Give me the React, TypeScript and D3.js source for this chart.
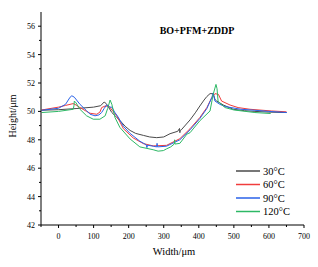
import React from "react";
import * as d3 from "d3";

const seriesNames = ["30°C", "60°C", "90°C", "120°C"];
const seriesColors = ["#4a4a4a", "#f03c3c", "#2a62e8", "#2db865"];

const x30 = [-48, 0, 50, 100, 120, 130, 136, 140, 152, 165, 175, 190, 204, 220, 242, 260, 280, 300, 318, 340, 345, 346, 347, 350, 375, 390, 403, 415, 423, 432, 441, 446, 451, 470, 498, 530, 560, 600, 650];
const y30 = [50.08, 50.12, 50.2, 50.3, 50.4, 50.66, 50.55, 50.4, 49.92, 49.6, 49.36, 48.95, 48.66, 48.45, 48.31, 48.2, 48.15, 48.2, 48.43, 48.6, 48.8, 48.5, 48.66, 48.7, 49.4, 49.9, 50.38, 50.8, 51.05, 51.25, 51.25, 50.85, 50.73, 50.45, 50.15, 50.05, 50.0, 49.95, 49.92];

const x60 = [-48, 0, 20, 42, 50, 61, 80, 90, 109, 118, 123, 133, 145, 152, 166, 185, 213, 242, 270, 308, 346, 375, 403, 423, 437, 446, 456, 465, 489, 512, 546, 608, 650];
const y60 = [50.1, 50.3, 50.42, 50.55, 50.45, 50.27, 50.0, 49.87, 49.8, 49.95, 50.27, 50.38, 50.35, 50.1, 49.7, 48.78, 48.13, 47.73, 47.57, 47.61, 48.08, 48.78, 49.57, 50.27, 50.97, 51.25, 51.2, 50.73, 50.45, 50.27, 50.15, 50.03, 49.97];

const x90 = [-48, 0, 20, 33, 38, 45, 61, 80, 90, 104, 115, 123, 130, 137, 145, 152, 160, 170, 185, 204, 232, 250, 252, 254, 270, 280, 281, 282, 308, 346, 375, 403, 423, 437, 441, 446, 460, 475, 520, 560, 600, 651];
const y90 = [50.08, 50.22, 50.5, 51.0, 51.1, 51.0, 50.5, 50.05, 49.8, 49.69, 49.75, 49.92, 50.2, 50.45, 50.3, 50.3, 49.95, 49.6, 48.95, 48.45, 47.9, 47.65, 47.45, 47.62, 47.55, 47.5, 47.75, 47.5, 47.55, 48.0, 48.7, 49.5, 50.2, 50.97, 51.3, 50.73, 50.5, 50.34, 50.15, 50.08, 50.0, 49.92];

const x120 = [-48, 0, 42, 44, 45, 50, 61, 80, 99, 118, 133, 140, 147, 152, 161, 175, 204, 232, 270, 284, 299, 308, 320, 330, 331, 332, 346, 366, 375, 403, 432, 441, 449, 452, 455, 475, 500, 560, 605];
const y120 = [49.92, 50.0, 50.15, 50.4, 50.73, 50.6, 50.15, 49.69, 49.45, 49.45, 49.69, 50.2, 50.8, 50.5, 49.57, 48.87, 48.06, 47.5, 47.3, 47.2, 47.24, 47.36, 47.5, 47.7, 48.0, 47.7, 47.75, 48.4, 48.5, 49.34, 50.03, 51.2, 51.9, 51.6, 50.7, 50.27, 50.1, 49.92, 49.85];

const xTicks = [0, 100, 200, 300, 400, 500, 600, 700];
const yTicks = [42, 44, 46, 48, 50, 52, 54, 56];
const titleText = "BO+PFM+ZDDP";
const xLabel = "Width/μm";
const yLabel = "Height/μm";

const W = 318;
const H = 267;
const left = 41;
const right = 304;
const top = 12;
const bottom = 225;
const font = "Liberation Serif, Times New Roman, serif";

export default function App() {
  const x = d3.scaleLinear().domain([-50, 700]).range([left, right]);
  const y = d3.scaleLinear().domain([42, 57]).range([bottom, top]);
  const xs = [x30, x60, x90, x120];
  const ys = [y30, y60, y90, y120];
  const line = d3
    .line<[number, number]>()
    .x((d) => x(d[0]))
    .y((d) => y(d[1]));
  const xMinor = d3.range(-50, 701, 50).filter((v) => v % 100 !== 0);
  const yMinor = d3.range(43, 57, 2);
  const legendY = [171, 184.5, 198, 211.5];
  const ts = { fontFamily: font };

  return (
    <svg width={W} height={H} style={{ position: "absolute", left: 0, top: 0, background: "#fff", fontFamily: font }}>
      <rect width={W} height={H} fill="#fff" />
      {xs.map((xa, i) => (
        <path
          key={i}
          d={line(xa.map((v, j) => [v, ys[i][j]] as [number, number])) || ""}
          fill="none"
          stroke={seriesColors[i]}
          strokeWidth={1}
        />
      ))}
      <line x1={left} x2={left} y1={top} y2={bottom} stroke="#000" strokeWidth={1} />
      <line x1={left} x2={right} y1={bottom} y2={bottom} stroke="#000" strokeWidth={1} />
      {xTicks.map((t) => (
        <g key={"xt" + t}>
          <line x1={x(t)} x2={x(t)} y1={bottom} y2={bottom + 3} stroke="#000" />
          <text x={x(t)} y={bottom + 14} fontSize={8} textAnchor="middle" style={ts}>
            {t}
          </text>
        </g>
      ))}
      {xMinor.map((t) => (
        <line key={"xm" + t} x1={x(t)} x2={x(t)} y1={bottom} y2={bottom + 2} stroke="#000" />
      ))}
      {yTicks.map((t) => (
        <g key={"yt" + t}>
          <line x1={left - 3} x2={left} y1={y(t)} y2={y(t)} stroke="#000" />
          <text x={left - 6} y={y(t) + 3} fontSize={8} textAnchor="end" style={ts}>
            {t}
          </text>
        </g>
      ))}
      {yMinor.map((t) => (
        <line key={"ym" + t} x1={left - 2} x2={left} y1={y(t)} y2={y(t)} stroke="#000" />
      ))}
      <text x={197} y={34} fontSize={10} fontWeight="bold" textAnchor="middle" style={ts}>
        {titleText}
      </text>
      <text x={174} y={255} fontSize={10.5} textAnchor="middle" style={ts}>
        {xLabel}
      </text>
      <text transform={`translate(16,116) rotate(-90)`} fontSize={10} textAnchor="middle" style={ts}>
        {yLabel}
      </text>
      {seriesNames.map((n, i) => (
        <g key={n}>
          <line x1={236} x2={260} y1={legendY[i]} y2={legendY[i]} stroke={seriesColors[i]} strokeWidth={1.5} />
          <text x={263} y={legendY[i] + 3.5} fontSize={10.5} style={ts}>
            {n}
          </text>
        </g>
      ))}
    </svg>
  );
}
